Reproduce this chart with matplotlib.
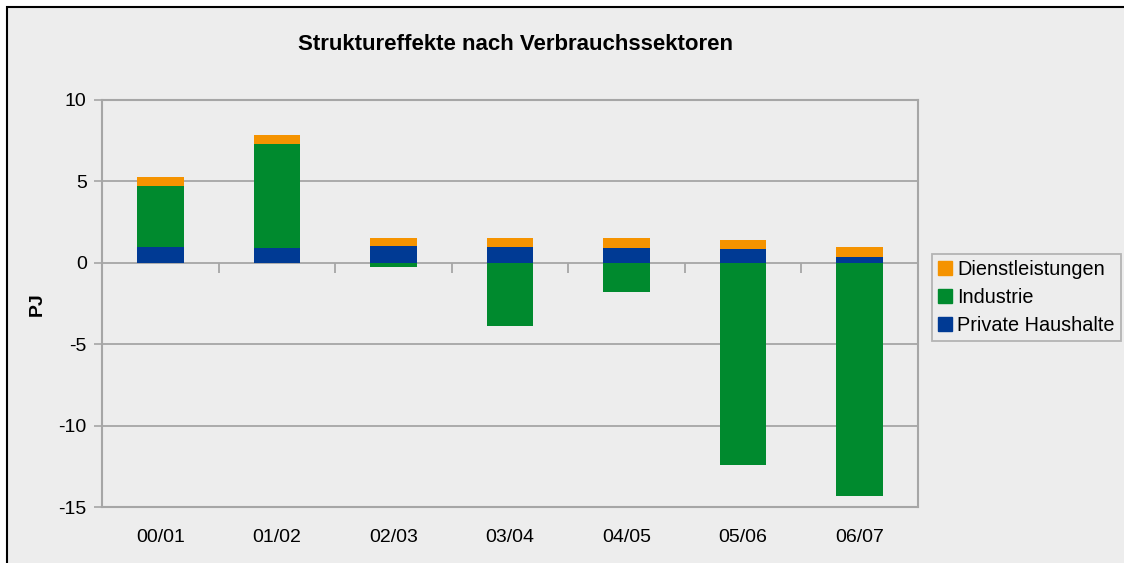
import matplotlib
matplotlib.use("Agg")
import matplotlib.pyplot as plt
import numpy as np
from matplotlib.lines import Line2D
from matplotlib.patches import Rectangle

plt.rcParams['font.family'] = ['Liberation Sans', 'DejaVu Sans']

categories = ["00/01", "01/02", "02/03", "03/04", "04/05", "05/06", "06/07"]
private_haushalte = [0.98, 0.92, 1.04, 0.98, 0.92, 0.86, 0.37]
industrie = [3.72, 6.38, -0.25, -3.87, -1.78, -12.39, -14.3]
dienstleistungen = [0.55, 0.55, 0.50, 0.55, 0.61, 0.55, 0.61]
series_names = ["Private Haushalte", "Industrie", "Dienstleistungen"]
yticks = [-15, -10, -5, 0, 5, 10]

colors = {"Private Haushalte": "#003A94", "Industrie": "#008A2E", "Dienstleistungen": "#F59300"}
bg = "#EDEDED"
grid_c = "#A6A6A6"

W, H = 1124, 563
fig = plt.figure(figsize=(W / 100, H / 100), dpi=100, facecolor="white")

# outer chart area with black frame (right/bottom edges cut off)
fig.patches.append(Rectangle((7 / W, -0.1), 1.2, 1 - 7 / H + 0.1, transform=fig.transFigure,
                             facecolor=bg, edgecolor="black", linewidth=1.5, zorder=-10))

ax = fig.add_axes([102 / W, 1 - 507 / H, (918 - 102) / W, (507 - 100) / H])
ax.set_zorder(5)
ax.set_facecolor(bg)

x = np.arange(len(categories))
bw = 0.40
data = {"Private Haushalte": private_haushalte, "Industrie": industrie, "Dienstleistungen": dienstleistungen}
pos_base = np.zeros(len(categories))
neg_base = np.zeros(len(categories))
for name in series_names:
    vals = np.array(data[name], dtype=float)
    bottoms = np.where(vals >= 0, pos_base, neg_base)
    ax.bar(x, vals, bw, bottom=bottoms, color=colors[name], linewidth=0, zorder=3)
    pos_base = pos_base + np.where(vals >= 0, vals, 0)
    neg_base = neg_base + np.where(vals < 0, vals, 0)

ax.set_xlim(-0.5, len(categories) - 0.5)
ax.set_ylim(-15, 10)
ax.set_yticks(yticks)
ax.set_yticklabels([str(v) for v in yticks], fontsize=14)
ax.tick_params(axis='y', length=6, width=1.2, color=grid_c, pad=5)
ax.set_xticks(x)
ax.set_xticklabels(categories, fontsize=14)
ax.tick_params(axis='x', length=0, pad=16)
ax.yaxis.grid(True, color=grid_c, linewidth=1.3, zorder=1)
ax.set_axisbelow(True)
for s in ax.spines.values():
    s.set_color(grid_c)
    s.set_linewidth(1.5)

# category boundary ticks on the zero line, pointing down
sec = ax.secondary_xaxis(15 / 25)
sec.set_xticks(np.arange(len(categories) + 1) - 0.5)
sec.xaxis.set_ticks_position('bottom')
sec.set_xticklabels([])
sec.tick_params(axis='x', which='both', direction='out', length=7, width=1.3, color=grid_c,
                bottom=True, top=False, labelbottom=False, labeltop=False)
for s in sec.spines.values():
    s.set_visible(False)

fig.text(516 / W, 1 - 45 / H, "Struktureffekte nach Verbrauchssektoren", ha="center", va="center",
         fontsize=16, fontweight="bold")
fig.text(37 / W, 1 - 304 / H, "PJ", rotation=90, ha="center", va="center", fontsize=14, fontweight="bold")

handles = [Line2D([], [], marker='s', linestyle='none', markersize=9.5, markerfacecolor=colors[n],
                  markeredgecolor=colors[n]) for n in ["Dienstleistungen", "Industrie", "Private Haushalte"]]
leg = fig.legend(handles, ["Dienstleistungen", "Industrie", "Private Haushalte"], loc="upper left",
                 bbox_to_anchor=(932 / W, 1 - 254 / H), fontsize=14.3, frameon=True, fancybox=False,
                 facecolor=bg, edgecolor=grid_c, handlelength=0.7, handletextpad=0.28,
                 labelspacing=0.45, borderpad=0.3, borderaxespad=0)
leg.get_frame().set_linewidth(1.3)

fig.savefig("out.png", dpi=100, facecolor="white")
